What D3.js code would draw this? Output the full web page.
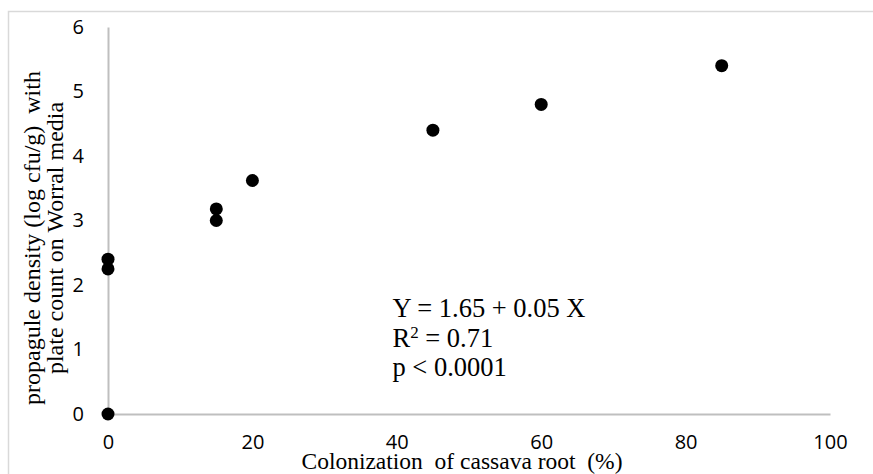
<!DOCTYPE html>
<html lang="en">
<head>
    <meta charset="UTF-8">
    <title>Propagule density vs colonization</title>
    <script src="https://d3js.org/d3.v7.min.js"></script>
    <style>
        body { margin: 0; background: #fff; }
        .tick text { font-family: "Open Sans", sans-serif; font-size: 20px; fill: #000; }
        .serif { font-family: "Liberation Serif", "Times New Roman", serif; fill: #000; }
    </style>
</head>
<body>
    <svg width="873" height="474"></svg>
    <script>
        // colonization (%) vs propagule density (log cfu/g)
        var colonization = [0, 0, 0, 15, 15, 20, 45, 60, 85];
        var density = [0, 2.25, 2.4, 3.0, 3.18, 3.62, 4.4, 4.8, 5.4];
        var xTicks = [0, 20, 40, 60, 80, 100];
        var yTicks = [0, 1, 2, 3, 4, 5, 6];
        var statsLines = ["Y = 1.65 + 0.05 X", "R2 = 0.71", "p < 0.0001"];

        var data = colonization.map(function (c, i) {
            return {x: c, y: density[i]};
        });

        var svg = d3.select("svg"),
            margin = {top: 27, right: 43, bottom: 60, left: 108},
            width = +svg.attr("width") - margin.left - margin.right,
            height = +svg.attr("height") - margin.top - margin.bottom;

        // outer frame (only top and left edges show)
        svg.append("path")
            .attr("d", "M8.5,474V11.5H873")
            .attr("fill", "none")
            .attr("stroke", "#d9d9d9")
            .attr("stroke-width", 1.5);

        var x = d3.scaleLinear().domain([0, 100]).range([0, width]),
            y = d3.scaleLinear().domain([0, 6]).range([height, 0]);

        var g = svg.append("g")
            .attr("transform", "translate(" + margin.left + "," + margin.top + ")");

        var xAxis = g.append("g")
            .attr("transform", "translate(0," + height + ")")
            .call(d3.axisBottom(x).tickValues(xTicks).tickSize(0).tickPadding(21).tickFormat(d3.format("d")));
        xAxis.select(".domain").attr("stroke", "#bfbfbf").attr("stroke-width", 2);

        var yAxis = g.append("g")
            .call(d3.axisLeft(y).tickValues(yTicks).tickSize(0).tickPadding(24).tickFormat(d3.format("d")));
        yAxis.select(".domain").attr("stroke", "#bfbfbf").attr("stroke-width", 2);

        g.selectAll(".dot")
            .data(data)
            .enter().append("circle")
            .attr("class", "dot")
            .attr("cx", function (d) { return x(d.x); })
            .attr("cy", function (d) { return y(d.y); })
            .attr("r", 6.5)
            .attr("fill", "#000");

        // regression annotation
        var stats = g.append("text")
            .attr("class", "serif")
            .attr("x", x(39.4))
            .attr("y", y(1.5))
            .style("font-size", "26.5px");
        statsLines.forEach(function (line, i) {
            var t = stats.append("tspan")
                .attr("x", x(39.4))
                .attr("dy", i === 0 ? 0 : 29.5);
            if (line.indexOf("R2") === 0) {
                t.text("R");
                t.append("tspan").attr("dy", -9).style("font-size", "17px").text("2");
                t.append("tspan").attr("dy", 9).text(line.slice(2));
            } else {
                t.text(line);
            }
        });

        // axis titles
        svg.append("text")
            .attr("class", "serif")
            .attr("x", 462)
            .attr("y", 469)
            .attr("text-anchor", "middle")
            .style("font-size", "23.5px")
            .style("white-space", "pre")
            .text("Colonization  of cassava root  (%)");

        var yTitle = svg.append("text")
            .attr("class", "serif")
            .attr("transform", "translate(40,238) rotate(-90)")
            .attr("text-anchor", "middle")
            .style("font-size", "24px")
            .style("white-space", "pre");
        yTitle.append("tspan").attr("x", 0).attr("y", 0).text("propagule density (log cfu/g)  with");
        yTitle.append("tspan").attr("x", 0).attr("y", 23).text("plate count on Worral media");
    </script>
</body>
</html>
